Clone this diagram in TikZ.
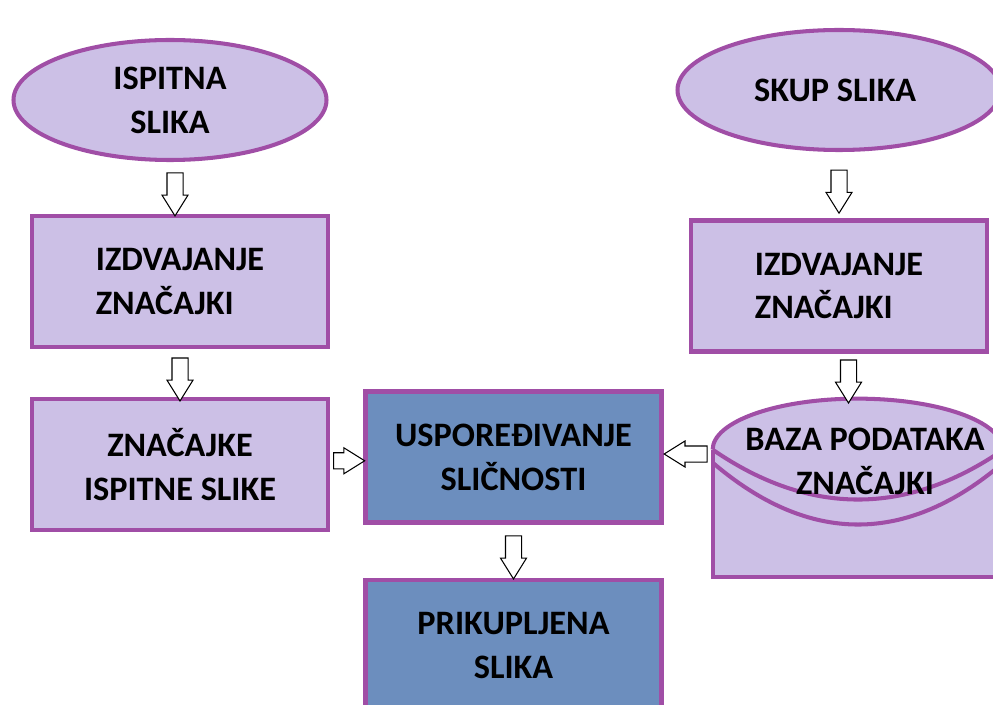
\documentclass[tikz,border=0pt]{standalone}
\usepackage{fontspec}
\setmainfont{Carlito}
\usetikzlibrary{positioning,calc,shapes.geometric,shapes.arrows}
\definecolor{lila}{RGB}{204,192,230}
\definecolor{rub}{RGB}{160,78,166}
\definecolor{plava}{RGB}{108,142,190}
\tikzset{
    natpis/.style={
      font=\fontsize{19.5}{25}\selectfont\bfseries,
      align=center,
    },
    box/.style={
      natpis,
      rectangle,
      draw=rub, line width=2.3pt,
      fill=lila,
      minimum width=5.92cm,
      minimum height=2.62cm,
      inner sep=2pt,
    },
    plavibox/.style={
      box,
      fill=plava,
    },
    oval/.style={
      natpis,
      ellipse,
      draw=rub, line width=2.3pt,
      fill=lila,
      inner sep=0pt,
    },
    valjak/.style={
      draw=rub, line width=2.3pt,
    },
    strelica/.style={
      single arrow,
      draw=black, fill=white, line width=0.6pt,
      minimum height=0.86cm,
      inner xsep=0pt,
      inner ysep=0.15cm,
      single arrow head extend=0.1cm,
      single arrow tip angle=64,
    },
}

\begin{document}
\begin{tikzpicture}

    \useasboundingbox (0,0) rectangle (19.86,14.08);
    \clip (0,0) rectangle (19.86,14.08);

    % ulazi
    \node[oval, minimum width=6.26cm, minimum height=2.4cm] (E1) at (3.40,12.08)
    {
      ISPITNA\\
      SLIKA
    };

    \node[oval, minimum width=6.46cm, minimum height=2.4cm] (E2) at (16.78,12.28)
    {
      SKUP SLIKA
    };

    % lijevi stupac
    \node[box, align=left,
    below=1.04cm of E1, xshift=0.2cm] (IZ1)
    {
      IZDVAJANJE\\
      ZNAČAJKI
    };

    \node[box,
    below=0.96cm of IZ1] (ZIS)
    {
      ZNAČAJKE\\
      ISPITNE SLIKE
    };

    % desni stupac
    \node[box, align=left] (IZ2) at (16.78,8.36)
    {
      IZDVAJANJE\\
      ZNAČAJKI
    };

    % baza (valjak)
    \node[minimum width=5.8cm, minimum height=3.6cm] (BAZA) at (17.16,4.34) {};

    \coordinate (BL) at ($(BAZA.north west)+(0,-1.06)$);
    \coordinate (BR) at ($(BAZA.north east)+(0,-1.06)$);

    \fill[lila] (BL) arc[start angle=180, end angle=0, x radius=2.9cm, y radius=1.02cm]
      -- (BAZA.south east) -- (BAZA.south west) -- cycle;
    \draw[valjak] (BL) arc[start angle=180, end angle=0, x radius=2.9cm, y radius=1.02cm];
    \draw[valjak] (BL) -- (BAZA.south west) -- (BAZA.south east) -- (BR);
    \draw[valjak] (BL) .. controls +(1.93,-1.33) and +(-1.93,-1.33) .. (BR);
    \draw[valjak] ($(BL)+(0,-0.26)$) .. controls +(1.93,-1.65) and +(-1.93,-1.65) .. ($(BR)+(0,-0.26)$);

    \node[natpis] (BT) at ($(BAZA.north)+(0.14,-1.3)$)
    {
      BAZA PODATAKA\\
      ZNAČAJKI
    };

    % sredina
    \node[plavibox] (USP) at (10.27,4.94)
    {
      USPOREĐIVANJE\\
      SLIČNOSTI
    };

    \node[plavibox,
    below=1.06cm of USP] (PRI)
    {
      PRIKUPLJENA\\
      SLIKA
    };

    % strelice
    \node[strelica, rotate=-90] (S1) at ($(E1.south)!0.5!(IZ1.north)$) {};
    \node[strelica, rotate=-90] (S2) at ($(IZ1.south)!0.5!(ZIS.north)$) {};
    \node[strelica, rotate=-90] (S3) at ($(E2.south)!0.5!(IZ2.north)$) {};
    \node[strelica, rotate=-90] (S4) at ($(IZ2.south)!0.5!(BAZA.north)$) {};
    \node[strelica, minimum height=0.62cm] (S5) at ($(ZIS.east)!0.5!(USP.west)+(-0.08,0)$) {};
    \node[strelica, rotate=180] (S6) at ($(USP.east)!0.5!(USP.east -| BAZA.west)+(0.08,0.06)$) {};
    \node[strelica, rotate=-90] (S7) at ($(USP.south)!0.5!(PRI.north)$) {};

\end{tikzpicture}
\end{document}
